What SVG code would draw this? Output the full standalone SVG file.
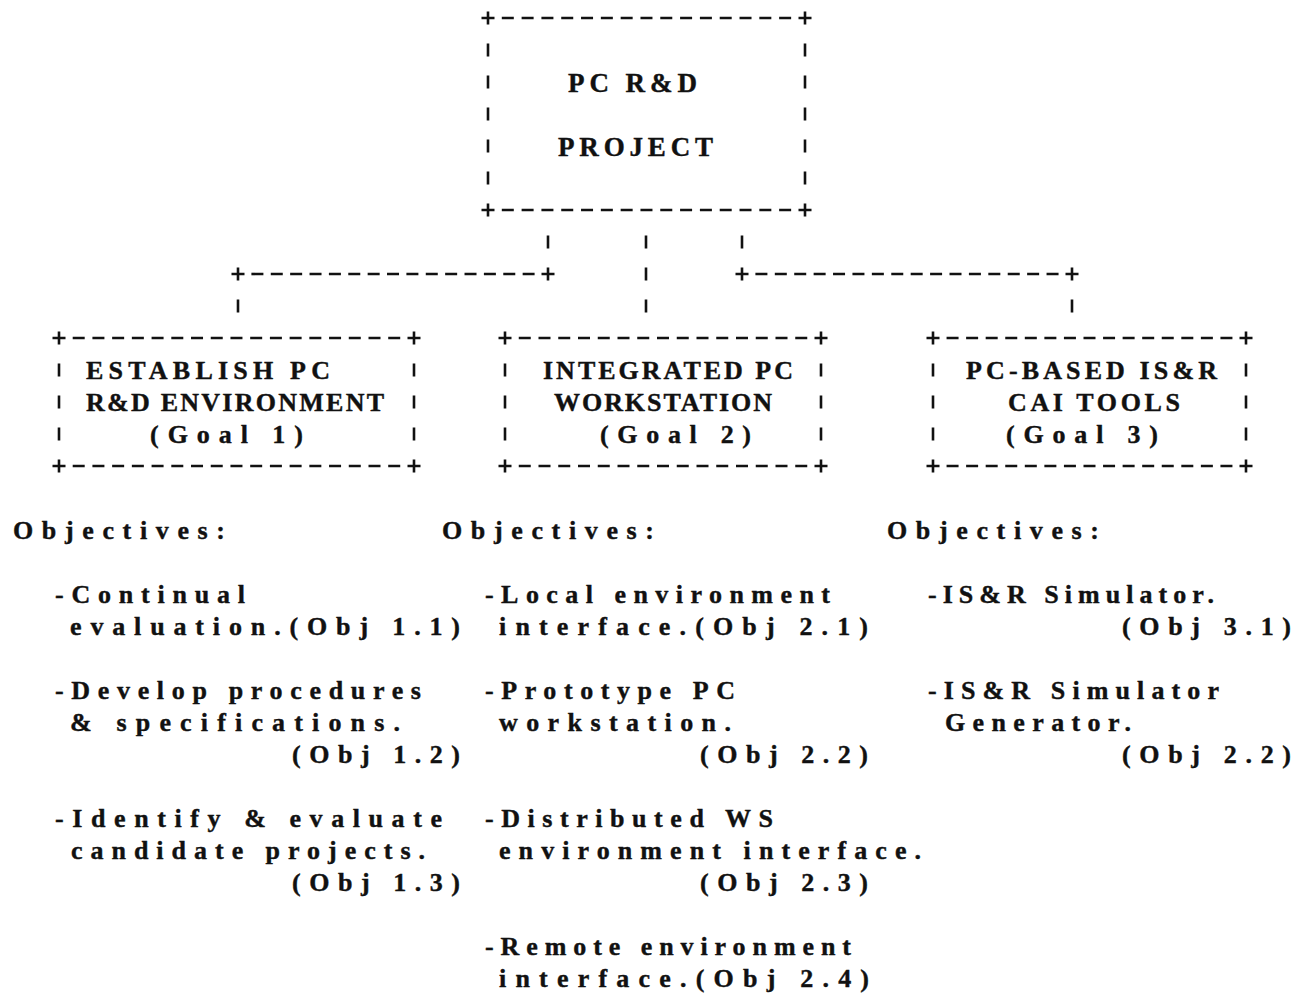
<svg xmlns="http://www.w3.org/2000/svg" width="1296" height="995" viewBox="0 0 1296 995">
<style>
  .ln{stroke:#111;stroke-width:2.6;fill:none}
  .v{stroke-dasharray:13 19}
  text{font-family:"Liberation Serif","Times New Roman",serif;font-weight:bold;font-size:26px;fill:#111;stroke:#111;stroke-width:0.4}
  .big{font-size:27px}
</style>
<defs>
  <path id="plus" class="ln" d="M-6.5 0H6.5M0 -6.5V6.5"/>
</defs>
<rect width="1296" height="995" fill="#fff"/>

<g id="n-project">
  <use href="#plus" x="488" y="18"/><use href="#plus" x="805" y="18"/>
  <use href="#plus" x="488" y="210"/><use href="#plus" x="805" y="210"/>
  <path class="ln" stroke-dasharray="12 7.81" d="M501.8 18H791.2M501.8 210H791.2"/>
  <path class="ln v" d="M488 43.5V184.5M805 43.5V184.5"/>
  <text class="big" x="568" y="92" textLength="129">PC R&amp;D</text>
  <text class="big" x="558" y="156" textLength="155">PROJECT</text>
</g>

<g id="connectors">
  <path class="ln" d="M548 235.5V248.5M646 235.5V248.5M742 235.5V248.5M646 267.5V280.5M238 299.5V312.5M646 299.5V312.5M1072 299.5V312.5"/>
  <use href="#plus" x="238" y="274"/><use href="#plus" x="548" y="274"/>
  <use href="#plus" x="742" y="274"/><use href="#plus" x="1072" y="274"/>
  <path class="ln" stroke-dasharray="12 7.375" d="M251.4 274H534.6"/>
  <path class="ln" stroke-dasharray="12 7.41" d="M755.4 274H1058.6"/>
</g>

<g id="n-goal1">
  <use href="#plus" x="59" y="338"/><use href="#plus" x="414" y="338"/>
  <use href="#plus" x="59" y="466"/><use href="#plus" x="414" y="466"/>
  <path class="ln" stroke-dasharray="12 7.72" d="M72.7 338H400.3M72.7 466H400.3"/>
  <path class="ln v" d="M59 363.5V440.5M414 363.5V440.5"/>
  <text x="86" y="379" textLength="244">ESTABLISH PC</text>
  <text x="86" y="411" textLength="298">R&amp;D ENVIRONMENT</text>
  <text x="150" y="443" textLength="153">(Goal 1)</text>
</g>

<g id="n-goal2">
  <use href="#plus" x="505" y="338"/><use href="#plus" x="821" y="338"/>
  <use href="#plus" x="505" y="466"/><use href="#plus" x="821" y="466"/>
  <path class="ln" stroke-dasharray="12 7.75" d="M518.75 338H807.25M518.75 466H807.25"/>
  <path class="ln v" d="M505 363.5V440.5M821 363.5V440.5"/>
  <text x="543" y="379" textLength="250">INTEGRATED PC</text>
  <text x="554" y="411" textLength="218">WORKSTATION</text>
  <text x="600" y="443" textLength="151">(Goal 2)</text>
</g>

<g id="n-goal3">
  <use href="#plus" x="933" y="338"/><use href="#plus" x="1246" y="338"/>
  <use href="#plus" x="933" y="466"/><use href="#plus" x="1246" y="466"/>
  <path class="ln" stroke-dasharray="12 7.5625" d="M946.56 338H1232.44M946.56 466H1232.44"/>
  <path class="ln v" d="M933 363.5V440.5M1246 363.5V440.5"/>
  <text x="966" y="379" textLength="251">PC-BASED IS&amp;R</text>
  <text x="1008" y="411" textLength="172">CAI TOOLS</text>
  <text x="1006" y="443" textLength="152">(Goal 3)</text>
</g>

<g id="objectives-1">
  <text x="13" y="539" textLength="212">Objectives:</text>
  <text x="55" y="603" textLength="190">-Continual</text>
  <text x="70" y="635" textLength="390">evaluation.(Obj 1.1)</text>
  <text x="55" y="699" textLength="366">-Develop procedures</text>
  <text x="70" y="731" textLength="330">&amp; specifications.</text>
  <text x="292" y="763" textLength="168">(Obj 1.2)</text>
  <text x="55" y="827" textLength="387">-Identify &amp; evaluate</text>
  <text x="71" y="859" textLength="354">candidate projects.</text>
  <text x="292" y="891" textLength="168">(Obj 1.3)</text>
</g>

<g id="objectives-2">
  <text x="442" y="539" textLength="212">Objectives:</text>
  <text x="485" y="603" textLength="345">-Local environment</text>
  <text x="499" y="635" textLength="369">interface.(Obj 2.1)</text>
  <text x="485" y="699" textLength="250">-Prototype PC</text>
  <text x="499" y="731" textLength="232">workstation.</text>
  <text x="700" y="763" textLength="168">(Obj 2.2)</text>
  <text x="485" y="827" textLength="288">-Distributed WS</text>
  <text x="499" y="859" textLength="422">environment interface.</text>
  <text x="700" y="891" textLength="168">(Obj 2.3)</text>
  <text x="485" y="955" textLength="366">-Remote environment</text>
  <text x="499" y="987" textLength="370">interface.(Obj 2.4)</text>
</g>

<g id="objectives-3">
  <text x="887" y="539" textLength="212">Objectives:</text>
  <text x="928" y="603" textLength="286">-IS&amp;R Simulator.</text>
  <text x="1122" y="635" textLength="169">(Obj 3.1)</text>
  <text x="928" y="699" textLength="291">-IS&amp;R Simulator</text>
  <text x="945" y="731" textLength="186">Generator.</text>
  <text x="1122" y="763" textLength="169">(Obj 2.2)</text>
</g>
</svg>
